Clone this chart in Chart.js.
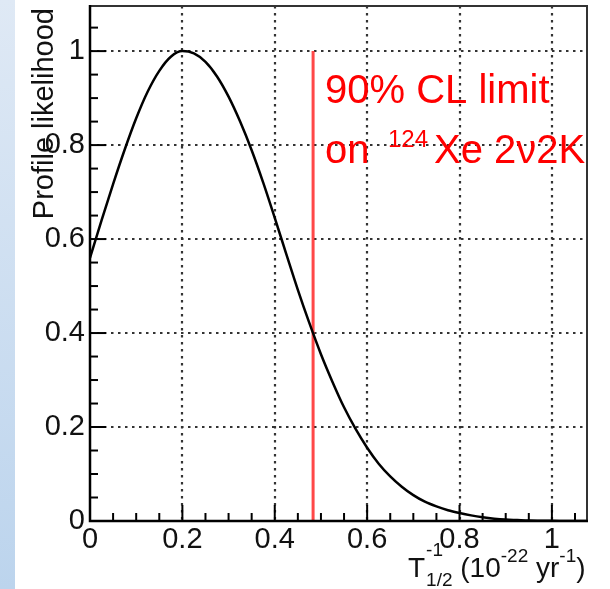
<!DOCTYPE html>
<html>
<head>
<meta charset="utf-8">
<script src="https://cdn.jsdelivr.net/npm/chart.js@4.4.0/dist/chart.umd.min.js"></script>
<style>
  body { margin: 0; background: #fff; }
  canvas { display: block; }
</style>
</head>
<body>
<canvas id="myChart" width="610" height="589"></canvas>
<script>
// profile likelihood
const xValues = [0, 0.025, 0.05, 0.075, 0.1, 0.125, 0.15, 0.175, 0.2, 0.225, 0.25, 0.275, 0.3, 0.325, 0.35, 0.375, 0.4, 0.425, 0.45, 0.475, 0.5, 0.525, 0.55, 0.575, 0.6, 0.625, 0.65, 0.675, 0.7, 0.725, 0.75, 0.775, 0.8, 0.825, 0.85, 0.875, 0.9, 0.925, 0.95, 0.975, 1.0, 1.025, 1.05, 1.075];
const likelihood = [0.56, 0.64, 0.717, 0.79, 0.857, 0.914, 0.958, 0.988, 1.0, 0.995, 0.977, 0.946, 0.903, 0.85, 0.789, 0.72, 0.645, 0.568, 0.492, 0.421, 0.355, 0.296, 0.242, 0.196, 0.156, 0.122, 0.095, 0.073, 0.055, 0.041, 0.031, 0.023, 0.017, 0.012, 0.008, 0.005, 0.003, 0.002, 0.001, 0.0006, 0.0003, 0.0002, 0.0001, 0.0001];

// 90% CL limit line
const limitX = [0.483, 0.483];
const limitY = [0, 1];

const xTicks = [0, 0.2, 0.4, 0.6, 0.8, 1];
const yTicks = [0, 0.2, 0.4, 0.6, 0.8, 1];

const axisFont = "'Liberation Sans', Arial, sans-serif";

const rootStyle = {
  id: "rootStyle",
  beforeDraw(chart) {
    const ctx = chart.ctx;
    ctx.save();
    ctx.fillStyle = "#fff";
    ctx.fillRect(0, 0, chart.width, chart.height);
    let grad = ctx.createLinearGradient(0, 0, 0, chart.height);
    grad.addColorStop(0, "#dfe9f5");
    grad.addColorStop(1, "#bcd4ed");
    ctx.fillStyle = grad;
    ctx.fillRect(0, 0, 15, chart.height);
    ctx.restore();
  },
  beforeDatasetsDraw(chart) {
    const { ctx, chartArea: a, scales } = chart;
    ctx.save();
    ctx.strokeStyle = "#333";
    ctx.lineWidth = 2.2;
    ctx.setLineDash([2.5, 4.5]);
    xTicks.slice(1).forEach((v) => {
      let px = Math.round(scales.x.getPixelForValue(v));
      ctx.beginPath();
      ctx.moveTo(px, a.top);
      ctx.lineTo(px, a.bottom);
      ctx.stroke();
    });
    yTicks.slice(1).forEach((v) => {
      let py = Math.round(scales.y.getPixelForValue(v));
      ctx.beginPath();
      ctx.moveTo(a.left, py);
      ctx.lineTo(a.right, py);
      ctx.stroke();
    });
    ctx.restore();
  },
  afterDatasetsDraw(chart) {
    const { ctx, chartArea: a, scales } = chart;
    ctx.save();
    // top and right frame
    ctx.strokeStyle = "#333";
    ctx.lineWidth = 2;
    ctx.beginPath();
    ctx.moveTo(a.left, a.top);
    ctx.lineTo(a.right, a.top);
    ctx.lineTo(a.right, a.bottom);
    ctx.stroke();
    // ticks, pointing inside
    ctx.strokeStyle = "#000";
    for (let i = 0; i <= 21; i++) {
      let v = i * 0.05;
      let len = i % 4 === 0 ? 16 : 8;
      let px = scales.x.getPixelForValue(v);
      ctx.beginPath();
      ctx.moveTo(px, a.bottom);
      ctx.lineTo(px, a.bottom - len);
      ctx.stroke();
      let py = scales.y.getPixelForValue(v);
      ctx.beginPath();
      ctx.moveTo(a.left, py);
      ctx.lineTo(a.left + len, py);
      ctx.stroke();
    }
    // left and bottom axis
    ctx.lineWidth = 2.5;
    ctx.beginPath();
    ctx.moveTo(a.left, a.top - 1);
    ctx.lineTo(a.left, a.bottom);
    ctx.lineTo(a.right + 1, a.bottom);
    ctx.stroke();
    ctx.restore();
  },
  afterDraw(chart) {
    const ctx = chart.ctx;
    ctx.save();
    ctx.fillStyle = "#111";

    // y title
    ctx.save();
    ctx.font = "29px " + axisFont;
    ctx.translate(53, 8);
    ctx.rotate(-Math.PI / 2);
    ctx.textAlign = "right";
    ctx.textBaseline = "alphabetic";
    ctx.fillText("Profile likelihood", 0, 0);
    ctx.restore();

    // x title: T^-1_1/2 (10^-22 yr^-1)
    ctx.textAlign = "left";
    ctx.textBaseline = "alphabetic";
    let x = 408;
    const big = "28px " + axisFont;
    const small = "19px " + axisFont;
    ctx.font = big;
    ctx.fillText("T", x, 577);
    x += ctx.measureText("T").width + 1;
    ctx.font = small;
    ctx.fillText("-1", x, 556);
    ctx.fillText("1/2", x, 586);
    x += ctx.measureText("1/2").width;
    ctx.font = big;
    ctx.fillText(" (10", x, 577);
    x += ctx.measureText(" (10").width;
    ctx.font = small;
    ctx.fillText("-22", x, 562);
    x += ctx.measureText("-22").width;
    ctx.font = big;
    ctx.fillText(" yr", x, 577);
    x += ctx.measureText(" yr").width;
    ctx.font = small;
    ctx.fillText("-1", x, 562);
    x += ctx.measureText("-1").width;
    ctx.font = big;
    ctx.fillText(")", x, 577);

    // red annotation
    ctx.fillStyle = "#ff0000";
    ctx.font = "40px " + axisFont;
    ctx.fillText("90% CL limit", 325, 103);
    ctx.fillText("on", 325, 163);
    ctx.font = "24px " + axisFont;
    ctx.fillText("124", 388, 147);
    ctx.font = "40px " + axisFont;
    ctx.fillText("Xe 2\u03bd2K", 434, 163);
    ctx.restore();
  },
};

const ctx = document.getElementById("myChart").getContext("2d");
const myChart = new Chart(ctx, {
  type: "line",
  data: {
    datasets: [
      {
        data: xValues.map((x, i) => ({ x: x, y: likelihood[i] })),
        borderColor: "#000",
        borderWidth: 2.5,
        pointRadius: 0,
        cubicInterpolationMode: "monotone",
      },
      {
        data: limitX.map((x, i) => ({ x: x, y: limitY[i] })),
        borderColor: "rgba(255, 40, 40, 0.85)",
        borderWidth: 3,
        pointRadius: 0,
      },
    ],
  },
  options: {
    responsive: false,
    animation: false,
    devicePixelRatio: 1,
    layout: { padding: { top: 6, right: 23, left: 0, bottom: 0 } },
    plugins: { legend: { display: false }, tooltip: { enabled: false } },
    scales: {
      x: {
        type: "linear",
        min: 0,
        max: 1.076,
        afterBuildTicks: (s) => { s.ticks = xTicks.map((v) => ({ value: v })); },
        afterFit: (s) => {
          s.height = 68;
          s.paddingLeft = 0;
          s.paddingRight = 0;
        },
        grid: { display: false, drawTicks: false },
        border: { display: false },
        ticks: {
          font: { family: axisFont, size: 29 },
          color: "#111",
          padding: 2,
          maxRotation: 0,
          autoSkip: false,
          callback: (v) => String(v),
        },
      },
      y: {
        type: "linear",
        min: 0,
        max: 1.096,
        afterBuildTicks: (s) => { s.ticks = yTicks.map((v) => ({ value: v })); },
        afterFit: (s) => {
          s.width = 90;
          s.paddingTop = 0;
          s.paddingBottom = 0;
        },
        grid: { display: false, drawTicks: false },
        border: { display: false },
        ticks: {
          font: { family: axisFont, size: 29 },
          color: "#111",
          padding: 5,
          autoSkip: false,
          callback: (v) => String(v),
        },
      },
    },
  },
  plugins: [rootStyle],
});
</script>
</body>
</html>
